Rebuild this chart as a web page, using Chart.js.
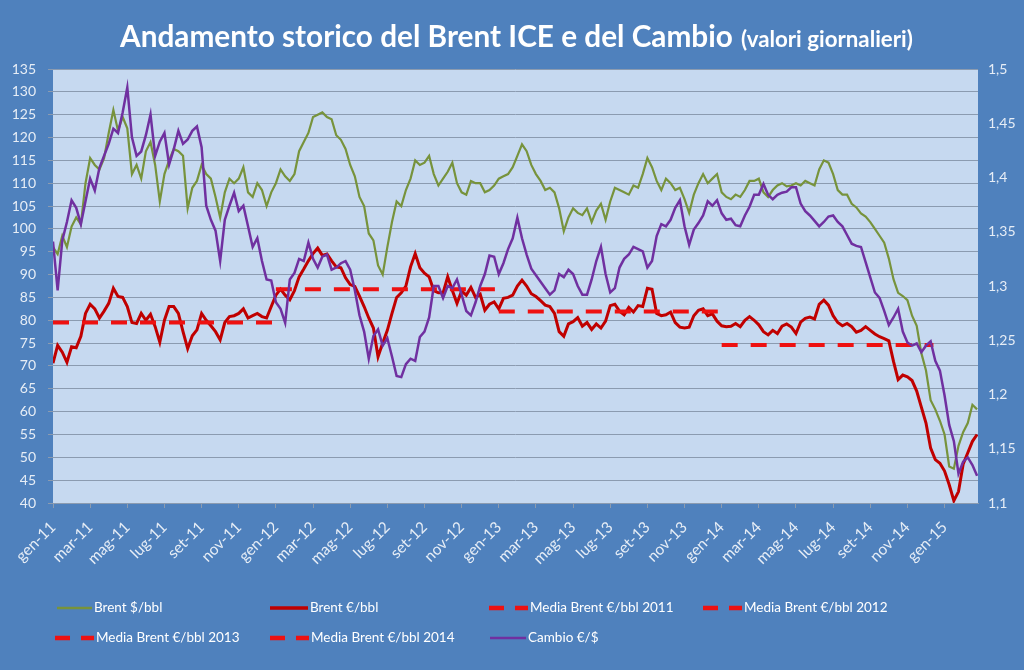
<!DOCTYPE html>
<html><head><meta charset="utf-8">
<script src="https://cdn.jsdelivr.net/npm/chart.js@4.4.0/dist/chart.umd.min.js"></script>
<style>html,body{margin:0;padding:0;background:#4F81BD;}canvas{display:block;}</style>
</head><body>
<canvas id="c" width="1024" height="670"></canvas>
<script>
// x-axis tick labels (one every two months, starting at gen-11 = month 0)
const monthLabels = ['gen-11','mar-11','mag-11','lug-11','set-11','nov-11',
  'gen-12','mar-12','mag-12','lug-12','set-12','nov-12',
  'gen-13','mar-13','mag-13','lug-13','set-13','nov-13',
  'gen-14','mar-14','mag-14','lug-14','set-14','nov-14','gen-15'];
const sampleStepMonths = 0.25; // one value per week
const axisEndMonth = 49.8;

// Brent $/bbl (weekly readings)
const brentUsd = [
 96,94.5,98.5,96, 100.5,102.5,101,110, 115.5,114,113,115.5, 121,126,121.5,124.5,
 122,112,114,111, 117,119,114,106, 112,115,117.5,117, 116,104.5,109,110.5,
 114,112,111,107, 102.5,108,111,110, 111,113.5,108,107, 110,108.5,105,108,
 110,113,111.5,110.5, 112,117,119,121, 124.5,125,125.5,124.5, 124,120.5,119.5,117.5,
 114,111.5,107,105, 99,97.5,92,90, 96,101.5,106,105, 108.5,111,115,114,
 114.5,116,112,109.5, 111,112.5,114.5,110, 108,107.5,110.5,110, 110,108,108.5,109.5,
 111,111.5,112,113.5, 116,118.5,117,114, 112,110.5,108.5,109, 108,104.5,99.5,102.5,
 104.5,103.5,103,104.5, 101.5,104,105.5,102, 106,109,108.5,108, 107.5,109.5,109,112,
 115.5,113.5,110.5,108.5, 111,110,108.5,109, 106.5,103.5,107.5,110, 112,110,111,112,
 108,107,106.5,107.5, 107,108.5,110.5,110.5, 111,108,107,108.5, 109.5,110,109.3,109.5,
 110,109.5,110.5,110, 109.5,113,115,114.5, 112,108.5,107.5,107.5, 105.5,104.7,103.4,102.7,
 101.5,100,98.5,97, 93.5,89,86,85.3, 84.4,81,78.8,72.8, 69,62.5,60.5,58,
 55,48,47.5,52.5, 55.5,57.5,61.5,60.5
];
// Brent €/bbl (weekly readings)
const brentEur = [
 70.6,74.5,73,70.8, 74.2,74,76.5,81.5, 83.5,82.5,80.5,82, 83.7,87,85.2,85,
 83,79.5,79.3,81.5, 80,81.3,78.6,75.2, 80,83,83,81.5, 77.5,73.8,76.6,77.9,
 81.5,80,78.8,77.5, 75.7,79.5,80.8,81, 81.5,82.5,80.5,81, 81.5,80.8,80.5,83,
 85.5,86.8,85.5,84.5, 86.5,89.5,91.2,93, 94.6,95.8,94.2,94.5, 93,91.7,91.5,89.3,
 87.8,87.4,85.3,83, 80.5,78.3,72,75, 77.8,81.5,85,86, 87.5,91.7,94.6,91.5,
 90.3,89.5,86.5,86, 86,89.5,86.5,83.7, 86.4,85.5,87.2,85, 85.7,82.2,83.5,84,
 82.5,84.8,85,85.5, 87.5,88.8,87.5,85.8, 85.2,84.3,83.3,83, 81.5,77.5,76.5,79.2,
 79.7,80.6,78.7,79.5, 78,79.2,78.3,79.8, 83.2,83.5,82,81.2, 82.8,81.8,83.2,83,
 87,86.8,81.5,81, 81.2,81.8,79.5,78.5, 78.3,78.5,81,82.2, 82.5,81,81.4,79.8,
 78.8,78.6,78.7,79.3, 78.6,80,80.8,80, 79,77.5,76.8,77.8, 77.1,78.7,79.2,78.5,
 77.1,79.6,80.4,80.7, 80.3,83.5,84.4,83.3, 81,79.5,78.8,79.3, 78.6,77.4,77.8,78.6,
 77.8,77,76.4,76, 75.5,71,67,68, 67.6,66.8,64.5,61, 57.5,52,49.5,48.7,
 47,44,40.5,42.5, 48.5,51,53.5,55
];
// Cambio €/$ (weekly readings, right axis)
const cambio = [
 1.341,1.296,1.342,1.359, 1.379,1.372,1.357,1.378, 1.399,1.388,1.409,1.420, 1.431,1.445,1.441,1.460,
 1.483,1.437,1.420,1.424, 1.439,1.458,1.420,1.433, 1.441,1.412,1.426,1.443, 1.431,1.435,1.443,1.447,
 1.428,1.374,1.361,1.351, 1.323,1.361,1.374,1.386, 1.369,1.374,1.355,1.336, 1.344,1.323,1.306,1.305,
 1.285,1.279,1.266,1.306, 1.312,1.325,1.323,1.340, 1.325,1.317,1.327,1.329, 1.315,1.317,1.321,1.323,
 1.315,1.296,1.273,1.258, 1.233,1.254,1.260,1.245, 1.252,1.235,1.217,1.216, 1.228,1.233,1.231,1.253,
 1.258,1.271,1.300,1.300, 1.289,1.300,1.298,1.306, 1.292,1.277,1.273,1.285, 1.300,1.311,1.328,1.327,
 1.311,1.321,1.334,1.344, 1.363,1.344,1.329,1.316, 1.310,1.304,1.298,1.292, 1.296,1.311,1.308,1.315,
 1.311,1.300,1.292,1.292, 1.306,1.323,1.336,1.311, 1.294,1.298,1.317,1.325, 1.329,1.336,1.334,1.332,
 1.317,1.323,1.346,1.357, 1.355,1.361,1.372,1.379, 1.355,1.338,1.352,1.358, 1.365,1.378,1.374,1.379,
 1.367,1.361,1.362,1.356, 1.355,1.365,1.373,1.384, 1.384,1.394,1.384,1.380, 1.384,1.386,1.387,1.391,
 1.391,1.376,1.369,1.365, 1.360,1.355,1.359,1.364, 1.365,1.359,1.355,1.347, 1.339,1.337,1.336,1.322,
 1.308,1.294,1.289,1.277, 1.264,1.271,1.279,1.258, 1.248,1.245,1.247,1.239, 1.245,1.249,1.231,1.222,
 1.199,1.172,1.157,1.127, 1.138,1.142,1.135,1.125
];
// Yearly averages of Brent €/bbl
const mediaYears = ['2011','2012','2013','2014'];
const mediaValues = [79.5, 86.8, 81.9, 74.6];
const mediaStartMonth = [0, 12, 24, 36];
const mediaEndMonth = [12, 24, 36, 47.4];

const C_GREEN = '#77933C', C_RED = '#C00000', C_DASH = '#EE1111', C_PURPLE = '#7030A0';
const C_BG = '#4F81BD', C_PLOT = '#C6D9F0', C_GRID = '#8B9BB0', C_TXT = '#E6EDF6';
const FONT = 'Lato, "Open Sans", sans-serif';

const toXY = arr => arr.map((v, i) => ({x: i * sampleStepMonths, y: v}));

const datasets = [
  {label:'Brent $/bbl', data: toXY(brentUsd), borderColor:C_GREEN, borderWidth:2.2, yAxisID:'y', order:5},
  {label:'Brent €/bbl', data: toXY(brentEur), borderColor:C_RED, borderWidth:3, yAxisID:'y', order:4},
];
mediaYears.forEach((yr, k) => {
  datasets.push({label:'Media Brent €/bbl ' + yr,
    data:[{x:mediaStartMonth[k], y:mediaValues[k]}, {x:mediaEndMonth[k], y:mediaValues[k]}],
    borderColor:C_DASH, borderWidth:4, borderDash:[16,13], yAxisID:'y', order:3});
});
datasets.push({label:'Cambio €/$', data: toXY(cambio), borderColor:C_PURPLE, borderWidth:2.5, yAxisID:'y1', order:1});

const bgPlugin = {
  id:'bg',
  beforeDraw(chart){
    const {ctx, chartArea:a} = chart;
    ctx.save();
    ctx.fillStyle = C_BG; ctx.fillRect(0,0,chart.width,chart.height);
    ctx.fillStyle = C_PLOT; ctx.fillRect(a.left, a.top, a.right-a.left, a.bottom-a.top);
    ctx.restore();
  },
  afterDraw(chart){
    const ctx = chart.ctx;
    ctx.save();
    // title
    ctx.fillStyle = '#FFFFFF';
    ctx.textBaseline = 'alphabetic';
    const main = 'Andamento storico del Brent ICE e del Cambio';
    ctx.font = 'bold 28px ' + FONT;
    let s = 28 * 613 / ctx.measureText(main).width;
    ctx.font = 'bold ' + s.toFixed(2) + 'px ' + FONT;
    ctx.fillText(main, 120, 47);
    const sub = '(valori giornalieri)';
    ctx.font = 'bold 17px ' + FONT;
    s = 17 * 172 / ctx.measureText(sub).width;
    ctx.font = 'bold ' + s.toFixed(2) + 'px ' + FONT;
    ctx.fillText(sub, 741, 47);
    // legend
    const items = [
      {t:'Brent $/bbl', c:C_GREEN, w:2.5, d:[], x1:57, x2:92, y:608},
      {t:'Brent €/bbl', c:C_RED, w:3.5, d:[], x1:270, x2:308, y:608},
      {t:'Media Brent €/bbl 2011', c:C_DASH, w:4.5, d:[15,11], x1:489, x2:528, y:608},
      {t:'Media Brent €/bbl 2012', c:C_DASH, w:4.5, d:[15,11], x1:703, x2:742, y:608},
      {t:'Media Brent €/bbl 2013', c:C_DASH, w:4.5, d:[15,11], x1:55, x2:94, y:638},
      {t:'Media Brent €/bbl 2014', c:C_DASH, w:4.5, d:[15,11], x1:270, x2:309, y:638},
      {t:'Cambio €/$', c:C_PURPLE, w:2.5, d:[], x1:490, x2:526, y:638},
    ];
    ctx.font = '13.5px ' + FONT;
    ctx.textBaseline = 'middle';
    items.forEach(it => {
      ctx.beginPath();
      ctx.setLineDash(it.d);
      ctx.strokeStyle = it.c; ctx.lineWidth = it.w;
      ctx.moveTo(it.x1, it.y); ctx.lineTo(it.x2, it.y); ctx.stroke();
      ctx.setLineDash([]);
      ctx.fillStyle = '#FFFFFF';
      ctx.fillText(it.t, it.x2 + 2, it.y);
    });
    ctx.restore();
  }
};

new Chart(document.getElementById('c'), {
  type:'line',
  data:{datasets},
  options:{
    responsive:false, animation:false, parsing:true,
    elements:{point:{radius:0}, line:{tension:0, fill:false}},
    layout:{padding:{top:69, left:0, right:0, bottom:0}},
    plugins:{legend:{display:false}, tooltip:{enabled:false}, title:{display:false}},
    scales:{
      x:{type:'linear', min:0, max:axisEndMonth,
        afterBuildTicks(scale){ scale.ticks = monthLabels.map((_, i) => ({value: i*2})); },
        afterFit(scale){ scale.height = 167; },
        ticks:{autoSkip:false, minRotation:45, maxRotation:45, padding:10, color:C_TXT,
          font:{family:FONT, size:15.5},
          callback:(v) => monthLabels[Math.round(v/2)]},
        grid:{drawOnChartArea:false, drawTicks:true, tickLength:5, color:C_GRID},
        border:{display:true, color:C_GRID}},
      y:{position:'left', min:40, max:135,
        afterFit(scale){ scale.width = 53; },
        ticks:{stepSize:5, color:C_TXT, padding:12, font:{family:FONT, size:14}},
        grid:{color:C_GRID, lineWidth:1, tickLength:5},
        border:{display:false}},
      y1:{position:'right', min:1.1, max:1.5,
        afterFit(scale){ scale.width = 46; },
        ticks:{stepSize:0.05, color:C_TXT, padding:10, font:{family:FONT, size:14},
          callback:(v) => String(Number(v.toFixed(2))).replace('.', ',')},
        grid:{drawOnChartArea:false, drawTicks:false},
        border:{display:false}}
    }
  },
  plugins:[bgPlugin]
});
</script>
</body></html>
